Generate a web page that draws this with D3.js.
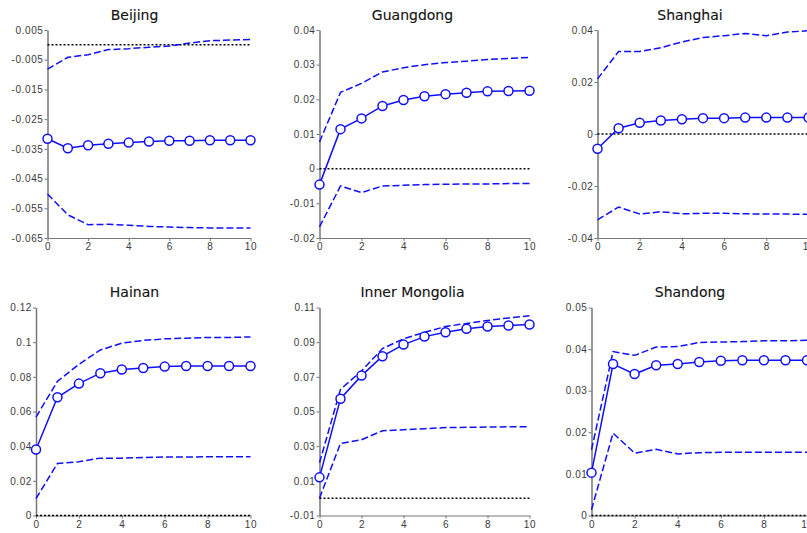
<!DOCTYPE html>
<html>
<head>
<meta charset="utf-8">
<script src="https://cdn.jsdelivr.net/npm/d3@7"></script>
<style>
  body { margin: 0; background: #fff; }
  svg { display: block; font-family: "DejaVu Sans", Verdana, sans-serif; }
  .tick text { fill: #3a3a3a; font-size: 10px; letter-spacing: 0.6px; }
  .domain, .tick line { stroke: #777; }
</style>
</head>
<body>
<svg id="chart" width="807" height="533"></svg>
<script>
// periods after the shock
const horizons = [0, 1, 2, 3, 4, 5, 6, 7, 8, 9, 10];
const xTicks = [0, 2, 4, 6, 8, 10];

const regions = ["Beijing", "Guangdong", "Shanghai", "Hainan", "Inner Mongolia", "Shandong"];

// impulse response (mean) and upper / lower bands per region
const beijingMean  = [-0.0316, -0.0348, -0.0338, -0.0333, -0.0329, -0.0325, -0.0323, -0.0323, -0.0321, -0.0321, -0.0321];
const beijingUpper = [-0.0082, -0.0042, -0.0033, -0.0016, -0.0013, -0.0008, -0.0004, 0.0006, 0.0014, 0.0016, 0.0018];
const beijingLower = [-0.0502, -0.0572, -0.0605, -0.0604, -0.0607, -0.0611, -0.0613, -0.0615, -0.0616, -0.0616, -0.0616];

const guangdongMean  = [-0.0046, 0.0114, 0.0145, 0.0181, 0.0198, 0.0209, 0.0215, 0.0219, 0.0223, 0.0224, 0.0225];
const guangdongUpper = [0.0077, 0.0220, 0.0246, 0.0279, 0.0291, 0.0300, 0.0306, 0.0310, 0.0315, 0.0318, 0.0321];
const guangdongLower = [-0.0168, -0.0050, -0.0069, -0.0050, -0.0048, -0.0046, -0.0045, -0.0044, -0.0044, -0.0043, -0.0043];

const shanghaiMean  = [-0.0057, 0.0022, 0.0043, 0.0052, 0.0057, 0.0061, 0.0061, 0.0063, 0.0063, 0.0063, 0.0063];
const shanghaiUpper = [0.0212, 0.0317, 0.0317, 0.0332, 0.0354, 0.0371, 0.0378, 0.0387, 0.0378, 0.0392, 0.0397];
const shanghaiLower = [-0.0330, -0.0281, -0.0308, -0.0299, -0.0307, -0.0305, -0.0305, -0.0307, -0.0308, -0.0308, -0.0309];

const hainanMean  = [0.0381, 0.0682, 0.0761, 0.0821, 0.0842, 0.0851, 0.0859, 0.0863, 0.0863, 0.0863, 0.0863];
const hainanUpper = [0.0568, 0.0774, 0.0872, 0.0955, 0.0994, 0.1010, 0.1019, 0.1023, 0.1027, 0.1027, 0.1030];
const hainanLower = [0.0098, 0.0300, 0.0310, 0.0331, 0.0331, 0.0335, 0.0337, 0.0337, 0.0339, 0.0339, 0.0339];

const mongoliaMean  = [0.0120, 0.0574, 0.0707, 0.0819, 0.0886, 0.0932, 0.0957, 0.0977, 0.0990, 0.0996, 0.1002];
const mongoliaUpper = [0.0204, 0.0628, 0.0734, 0.0863, 0.0919, 0.0957, 0.0990, 0.1008, 0.1025, 0.1040, 0.1052];
const mongoliaLower = [0.0000, 0.0316, 0.0337, 0.0389, 0.0395, 0.0401, 0.0407, 0.0409, 0.0410, 0.0412, 0.0412];

const shandongMean  = [0.0103, 0.0364, 0.0340, 0.0361, 0.0364, 0.0369, 0.0372, 0.0373, 0.0373, 0.0373, 0.0373];
const shandongUpper = [0.0158, 0.0394, 0.0385, 0.0405, 0.0406, 0.0416, 0.0417, 0.0418, 0.0420, 0.0420, 0.0421];
const shandongLower = [0.0014, 0.0198, 0.0150, 0.0159, 0.0148, 0.0151, 0.0152, 0.0152, 0.0152, 0.0152, 0.0152];

// y tick labels of each panel
const beijingTicks   = [0.005, -0.005, -0.015, -0.025, -0.035, -0.045, -0.055, -0.065];
const guangdongTicks = [0.04, 0.03, 0.02, 0.01, 0, -0.01, -0.02];
const shanghaiTicks  = [0.04, 0.02, 0, -0.02, -0.04];
const hainanTicks    = [0.12, 0.1, 0.08, 0.06, 0.04, 0.02, 0];
const mongoliaTicks  = [0.11, 0.09, 0.07, 0.05, 0.03, 0.01, -0.01];
const shandongTicks  = [0.05, 0.04, 0.03, 0.02, 0.01, 0];

const means  = [beijingMean, guangdongMean, shanghaiMean, hainanMean, mongoliaMean, shandongMean];
const uppers = [beijingUpper, guangdongUpper, shanghaiUpper, hainanUpper, mongoliaUpper, shandongUpper];
const lowers = [beijingLower, guangdongLower, shanghaiLower, hainanLower, mongoliaLower, shandongLower];
const yTicks = [beijingTicks, guangdongTicks, shanghaiTicks, hainanTicks, mongoliaTicks, shandongTicks];

// panel boxes (pixels)
const layout = [
    {left: 47.5, right: 250.5, top: 30, bottom: 238, titleX: 134.5, titleY: 19.5},
    {left: 319.5, right: 529.5, top: 30, bottom: 238, titleX: 412.5, titleY: 19.5},
    {left: 597.5, right: 808.5, top: 30, bottom: 238, titleX: 690, titleY: 19.5},
    {left: 36, right: 250.5, top: 307.5, bottom: 515.5, titleX: 134.5, titleY: 297},
    {left: 319.5, right: 529.5, top: 307.5, bottom: 515.5, titleX: 412.5, titleY: 297},
    {left: 591.5, right: 807, top: 307.5, bottom: 515.5, titleX: 690, titleY: 297}
];

const svg = d3.select("#chart");
const blue = "#0f0fff";
const fmt = d => (+d.toFixed(3)).toString();

regions.forEach((name, i) => {
    let box = layout[i];
    let ticks = yTicks[i];

    let x = d3.scaleLinear().domain([0, 10]).range([box.left, box.right]);
    let y = d3.scaleLinear().domain([d3.min(ticks), d3.max(ticks)]).range([box.bottom, box.top]);

    let g = svg.append("g");

    // title
    g.append("text")
        .attr("x", box.titleX)
        .attr("y", box.titleY)
        .attr("text-anchor", "middle")
        .style("font-size", "14px")
        .style("fill", "#111")
        .style("stroke", "#111")
        .style("stroke-width", 0.12)
        .text(name);

    // axes
    g.append("g")
        .attr("transform", `translate(0,${box.bottom})`)
        .call(d3.axisBottom(x).tickValues(xTicks).tickSize(3).tickSizeOuter(0).tickPadding(2).tickFormat(fmt))
        .call(a => a.select(".domain").attr("stroke-width", 1));

    g.append("g")
        .attr("transform", `translate(${box.left},0)`)
        .call(d3.axisLeft(y).tickValues(ticks).tickSize(3).tickSizeOuter(0).tickPadding(1).tickFormat(fmt))
        .call(a => a.select(".domain").attr("stroke-width", 1.5));

    // zero line
    g.append("line")
        .attr("x1", x(0)).attr("x2", x(10))
        .attr("y1", y(0)).attr("y2", y(0))
        .attr("stroke", "#000")
        .attr("stroke-width", 1.5)
        .attr("stroke-dasharray", "2,2");

    let line = d3.line().x((d, j) => x(horizons[j])).y(d => y(d));

    // confidence bands
    [uppers[i], lowers[i]].forEach(band => {
        g.append("path")
            .attr("d", line(band))
            .attr("fill", "none")
            .attr("stroke", blue)
            .attr("stroke-width", 1.5)
            .attr("stroke-dasharray", "7,3");
    });

    // mean response
    g.append("path")
        .attr("d", line(means[i]))
        .attr("fill", "none")
        .attr("stroke", blue)
        .attr("stroke-width", 1.5);

    g.selectAll("circle")
        .data(means[i])
        .join("circle")
        .attr("cx", (d, j) => x(horizons[j]))
        .attr("cy", d => y(d))
        .attr("r", 4.5)
        .attr("fill", "#fff")
        .attr("stroke", blue)
        .attr("stroke-width", 1.5);
});
</script>
</body>
</html>
